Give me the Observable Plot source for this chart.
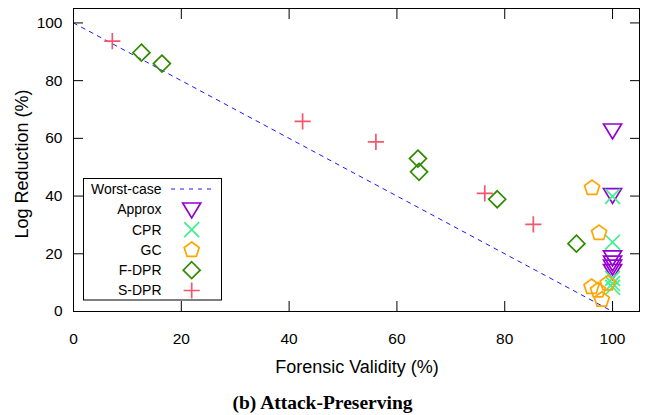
<!DOCTYPE html>
<html><head><meta charset="utf-8">
<script src="https://cdn.jsdelivr.net/npm/d3@7"></script>
<script src="https://cdn.jsdelivr.net/npm/@observablehq/plot@0.6"></script>
<style>
body{margin:0;background:#fff;}
#chart{width:645px;height:390px;}
#caption{width:645px;text-align:center;font-family:"Liberation Serif","DejaVu Serif",serif;font-weight:bold;font-size:19.5px;line-height:25px;color:#000;}
</style></head><body>
<div id="chart"></div>
<div id="caption">(b) Attack-Preserving</div>
<script>
const xTicks = [0, 20, 40, 60, 80, 100];
const yTicks = [0, 20, 40, 60, 80, 100];
const seriesNames = ["Approx", "CPR", "GC", "F-DPR", "S-DPR"];
const seriesColors = ["#9400d3", "#3cf08c", "#ffa500", "#2e8b00", "#f4566b"];
const approxX = [100, 100, 100, 100, 100, 100];
const approxY = [62.8, 40.4, 18.8, 17.0, 15.6, 14.1];
const cprX = [100, 100, 100, 100, 100];
const cprY = [39.9, 24.0, 11.5, 9.7, 8.4];
const gcX = [96.2, 97.5, 96.1, 97.3, 99.1, 98.0];
const gcY = [42.8, 27.2, 8.5, 7.3, 9.7, 4.1];
const fdprX = [12.6, 16.4, 63.9, 64.1, 78.6, 93.3];
const fdprY = [89.7, 85.9, 53.0, 48.4, 38.9, 23.5];
const sdprX = [7.2, 42.5, 56.1, 76.3, 85.3];
const sdprY = [93.7, 65.9, 58.8, 40.9, 30.2];
const worstX = [0, 100];
const worstY = [100, 0];
const worstLabel = "Worst-case";
const xLabel = "Forensic Validity (%)";
const yLabel = "Log Reduction (%)";

const R = 9;
const rOf = s => Math.sqrt(s / Math.PI);
const symTri = {draw(c, s) {const r = rOf(s); c.moveTo(-r, -0.7*r); c.lineTo(r, -0.7*r); c.lineTo(0, 0.95*r); c.closePath();}};
const symX = {draw(c, s) {const r = rOf(s)*0.83; c.moveTo(-r, -r); c.lineTo(r, r); c.moveTo(-r, r); c.lineTo(r, -r);}};
const symPent = {draw(c, s) {const r = rOf(s)*0.88; for (let i = 0; i < 5; i++) {const a = -Math.PI/2 + i*2*Math.PI/5; const px = r*Math.cos(a), py = r*Math.sin(a); if (i) c.lineTo(px, py); else c.moveTo(px, py);} c.closePath();}};
const symDia = {draw(c, s) {const r = rOf(s)*0.94; c.moveTo(0, -r); c.lineTo(r, 0); c.lineTo(0, r); c.lineTo(-r, 0); c.closePath();}};
const symPlus = {draw(c, s) {const r = rOf(s)*0.9; c.moveTo(-r, 0); c.lineTo(r, 0); c.moveTo(0, -r); c.lineTo(0, r);}};
const symbols = [symTri, symX, symPent, symDia, symPlus];

const seriesXs = [approxX, cprX, gcX, fdprX, sdprX];
const seriesYs = [approxY, cprY, gcY, fdprY, sdprY];
const points = [];
seriesNames.forEach((name, i) => seriesXs[i].forEach((x, j) => points.push({name, x, y: seriesYs[i][j], k: i})));
const worst = worstX.map((x, i) => ({x, y: worstY[i]}));

const font = "'Liberation Sans', Arial, sans-serif";
const plot = Plot.plot({
  width: 645, height: 390,
  marginLeft: 73, marginRight: 6, marginTop: 8, marginBottom: 79,
  style: {fontFamily: font, fontSize: "15.5px", color: "#000", background: "#fff"},
  x: {domain: [0, 105], ticks: xTicks},
  y: {domain: [0, 105], ticks: yTicks},
  marks: [
    Plot.axisX({anchor: "bottom", ticks: xTicks, tickSize: 0, tickPadding: 21, label: null, fontSize: 15.5}),
    Plot.axisY({anchor: "left", ticks: yTicks, tickSize: 0, tickPadding: 11, label: null, fontSize: 15.5}),
    Plot.axisX({anchor: "bottom", ticks: xTicks, tickSize: -10, tickFormat: () => "", label: null}),
    Plot.axisX({anchor: "top", ticks: xTicks, tickSize: -10, tickFormat: () => "", label: null}),
    Plot.axisY({anchor: "left", ticks: yTicks, tickSize: -10, tickFormat: () => "", label: null}),
    Plot.axisY({anchor: "right", ticks: yTicks, tickSize: -10, tickFormat: () => "", label: null}),
    Plot.line(worst, {x: "x", y: "y", stroke: "#1a1aff", strokeWidth: 1, strokeDasharray: "4,5"}),
    ...seriesNames.map((name, i) => Plot.dot(points.filter(d => d.k === i), {
      x: "x", y: "y", r: R, symbol: symbols[i], fill: "none", stroke: seriesColors[i], strokeWidth: 1.7
    })),
    Plot.frame({stroke: "#000", strokeWidth: 1})
  ]
});
document.getElementById("chart").appendChild(plot);

const svg = d3.select(plot);
// axis titles
svg.append("text").attr("x", 357).attr("y", 367).attr("text-anchor", "middle").attr("dy", "0.35em")
  .style("font-family", font).style("font-size", "18px").text(xLabel);
svg.append("text").attr("transform", "translate(22,164) rotate(-90)").attr("text-anchor", "middle").attr("dy", "0.35em")
  .style("font-family", font).style("font-size", "18px").text(yLabel);

// legend
const lg = svg.append("g");
lg.append("rect").attr("x", 83.5).attr("y", 178.5).attr("width", 138).attr("height", 121.5)
  .attr("fill", "#fff").attr("stroke", "#000").attr("stroke-width", 1);
const rowY = i => 189 + i * 20.3;
const labels = [worstLabel, ...seriesNames];
labels.forEach((t, i) => {
  lg.append("text").attr("x", 161.5).attr("y", rowY(i)).attr("dy", "0.35em").attr("text-anchor", "end")
    .style("font-family", font).style("font-size", "14px").text(t);
});
lg.append("line").attr("x1", 171).attr("x2", 213).attr("y1", rowY(0)).attr("y2", rowY(0))
  .attr("stroke", "#1a1aff").attr("stroke-width", 1).attr("stroke-dasharray", "4,5");
seriesNames.forEach((n, i) => {
  lg.append("path").attr("transform", `translate(191.7,${rowY(i + 1)})`)
    .attr("d", d3.symbol(symbols[i], Math.PI * R * R)())
    .attr("fill", "none").attr("stroke", seriesColors[i]).attr("stroke-width", 1.7);
});
</script>
</body></html>
